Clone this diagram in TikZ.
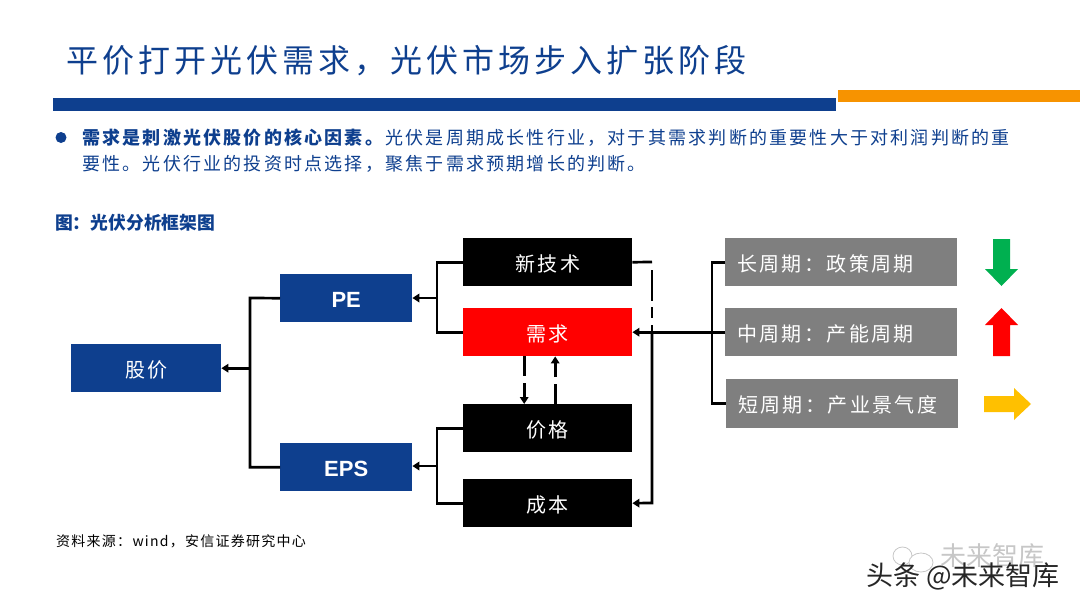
\documentclass[tikz,border=0pt]{standalone}
\usepackage{fontspec}
\usetikzlibrary{arrows.meta}
\setmainfont{Liberation Sans}
\newfontfamily\cjk{Noto Sans CJK SC}
\newfontfamily\cjktitle[LetterSpace=12.5]{Noto Sans CJK SC}
\newfontfamily\cjkbody[LetterSpace=12.3]{Noto Sans CJK SC}
\newfontfamily\cjkbox[LetterSpace=12]{Noto Sans CJK SC}
\newfontfamily\cjksrc[LetterSpace=9]{Noto Sans CJK SC}
\newcommand\lift[1]{\raisebox{-1.5pt}[\height][\depth]{#1}}
\definecolor{navy}{HTML}{0E3F8E}
\definecolor{bandorange}{HTML}{F79300}
\definecolor{boxgrey}{HTML}{7F7F7F}
\definecolor{upgreen}{HTML}{00B050}
\definecolor{warmyellow}{HTML}{FFC000}
\tikzset{
  box/.style={inner sep=0pt,text=white,minimum height=48pt,anchor=north west,font=\cjkbox\fontsize{20}{24}\selectfont},
  bluebox/.style={box,fill=navy},
  blackbox/.style={box,fill=black,minimum width=169pt},
  redbox/.style={box,fill=red,minimum width=169pt},
  greybox/.style={box,fill=boxgrey,minimum width=232pt,text width=208pt,align=left},
  latinlabel/.style={font=\bfseries\fontsize{22}{26}\selectfont},
  link/.style={line width=2.7pt,draw=black,line cap=butt},
  tiplink/.style={link,-{Triangle[length=7pt,width=8.5pt]}},
  dashlink/.style={tiplink,dash pattern=on 20pt off 7pt},
  plain/.style={inner sep=0pt,anchor=west},
}
\begin{document}
\begin{tikzpicture}[x=1pt,y=-1pt]
\useasboundingbox (0,0) rectangle (1080,608);
% header
\node[plain,text=navy,font=\cjktitle\fontsize{32}{36}\selectfont] (title) at (66,60.5) {平价打开光伏需求，光伏市场步入扩张阶段};
\fill[navy] (53,98) rectangle (836,111);
\fill[bandorange] (838,90) rectangle (1080,102);
\fill[navy] (61,137.5) circle (5.5);
\node[plain,text=navy,font=\cjkbody\fontsize{18}{22}\selectfont] (line1) at (82,138) {\textbf{需求是刺激光伏股价的核心因素。}光伏是周期成长性行业，对于其需求判断的重要性大于对利润判断的重};
\node[plain,text=navy,font=\cjkbody\fontsize{18}{22}\selectfont] (line2) at (82,164) {要性。光伏行业的投资时点选择，聚焦于需求预期增长的判断。};
\node[plain,text=navy,font=\cjk\bfseries\fontsize{17.8}{22}\selectfont] (fig) at (55,223) {图：光伏分析框架图};
\node[plain,text=black,font=\cjksrc\fontsize{14}{16}\selectfont] (src) at (56,541.5) {资料来源：wind，安信证券研究中心};

% boxes
\node[bluebox,minimum width=150pt] (stock) at (71,344) {\lift{股价}};
\node[bluebox,minimum width=132pt,latinlabel] (pe) at (280,274) {\lift{PE}};
\node[bluebox,minimum width=132pt,latinlabel] (eps) at (280,443) {\lift{EPS}};
\node[blackbox] (tech) at (463,238) {\lift{新技术}};
\node[redbox] (demand) at (463,308) {\lift{需求}};
\node[blackbox] (price) at (463,404) {\lift{价格}};
\node[blackbox] (cost) at (463,479) {\lift{成本}};
\node[greybox] (long) at (725,238) {\lift{长周期：政策周期}};
\node[greybox] (mid) at (725,308) {\lift{中周期：产能周期}};
\node[greybox,minimum height=49pt] (short) at (726,379) {\lift{短周期：产业景气度}};

% junctions
\coordinate (lb) at (250,298);
\coordinate (tl) at (437,298);
\coordinate (bl) at (437,466);
\coordinate (rb) at (712,332);
\coordinate (rc) at (652,262);
\coordinate (rd) at (652,332);
\coordinate (re) at (652,503);

% left brackets
\draw[link] (pe.west) -- (lb) -- (lb |- eps.west) -- (eps.west);
\draw[tiplink] (lb |- stock.east) -- (stock.east);
\draw[link] (tech.west) -- (tl |- tech.west) -- (tl |- demand.west) -- (demand.west);
\draw[tiplink] (tl) -- (pe.east |- tl);
\draw[link] (price.west) -- (bl |- price.west) -- (bl |- cost.west) -- (cost.west);
\draw[tiplink] (bl) -- (eps.east |- bl);

% right bracket
\draw[link] (long.west) -- (rb |- long.west) -- (rb |- short.west) -- (short.west);
\draw[tiplink] (mid.west) -- (demand.east);

% to cost
\draw[link] (tech.east) -- (rc);
\draw[link,dash pattern=on 0pt off 8pt on 31pt off 6pt on 11pt off 7pt on 10pt off 50pt] (rc) -- (rd);
\draw[tiplink] (rd) -- (re) -- (cost.east);

% demand <-> price
\draw[dashlink] ([xshift=-23.5pt]demand.south) -- ([xshift=-23.5pt]price.north);
\draw[dashlink] ([xshift=7.5pt]price.north) -- ([xshift=7.5pt]demand.south);

% trend arrows
\fill[upgreen] (993,239) -- (1010,239) -- (1010,269) -- (1018,269) -- (1001.5,286) -- (985,269) -- (993,269) -- cycle;
\fill[red] (993,356) -- (1010,356) -- (1010,325) -- (1018,325) -- (1001.5,308) -- (985,325) -- (993,325) -- cycle;
\fill[warmyellow] (984,396) -- (1014,396) -- (1014,388) -- (1031,404) -- (1014,420) -- (1014,412) -- (984,412) -- cycle;

% watermark
\draw[black!22,line width=0.8pt] (902.5,556) ellipse (9.5 and 9);
\draw[black!22,line width=0.8pt,fill=white] (921,562.5) ellipse (12 and 9.5);
\node[plain,text=black!22,font=\cjk\fontsize{26}{28}\selectfont] (wm1) at (940,556) {未来智库};
\node[plain,text=black!85,font=\cjk\fontsize{27}{28}\selectfont] (wm2) at (866,576) {头条 @未来智库};
\end{tikzpicture}
\end{document}
